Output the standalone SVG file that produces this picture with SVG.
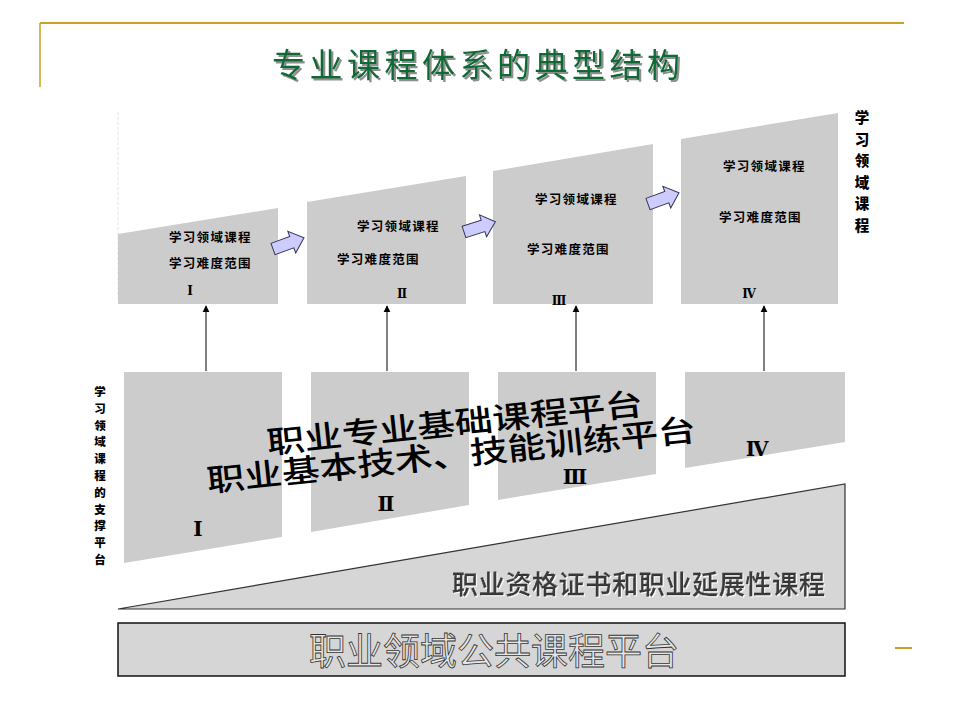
<svg xmlns="http://www.w3.org/2000/svg" width="960" height="720" viewBox="0 0 960 720">
<style>
.gold{stroke:#c9a227;fill:none}
.blk{fill:#cccccc;stroke:none}
.lbl{font-family:"Noto Sans CJK SC","Noto Sans CJK TC",sans-serif;font-weight:700;font-size:12.5px;letter-spacing:1.3px;fill:#000}
.rn{font-family:"DejaVu Serif","Noto Sans CJK SC",serif;font-weight:700;fill:#000;text-anchor:middle}
.vt{font-family:"Noto Sans CJK SC",sans-serif;font-weight:900;fill:#000;text-anchor:middle}
.vr{font-size:14.5px}
.vl{font-size:11.5px}
.big{font-family:"Noto Sans CJK SC",sans-serif;font-weight:500;font-size:31px;fill:#000}
.arw{fill:#ccccff;stroke:#333355;stroke-width:1}
.con{stroke:#000;stroke-width:1;fill:none}
</style>
<defs>
<marker id="ah" viewBox="0 0 10 10" refX="9" refY="5" markerWidth="7" markerHeight="8" markerUnits="userSpaceOnUse" orient="auto">
<path d="M0,0 L10,5 L0,10 z" fill="#000"/>
</marker>
<polygon id="barrow" points="0,-6 20,-6 20,-11.5 33,0 20,11.5 20,6 0,6"/>
<filter id="tsh" x="-5%" y="-20%" width="110%" height="140%">
<feDropShadow dx="2" dy="2" stdDeviation="0.4" flood-color="#8f8f8f"/>
</filter>
<filter id="emb" x="-5%" y="-20%" width="110%" height="140%">
<feDropShadow dx="1" dy="1" stdDeviation="0" flood-color="#ffffff"/>
</filter>
</defs>
<rect width="960" height="720" fill="#fff"/>

<g id="frame">
<line class="gold" x1="40" y1="23" x2="904" y2="23" stroke-width="2"/>
<line class="gold" x1="40" y1="23" x2="40" y2="87" stroke-width="1.5"/>
<line class="gold" x1="895" y1="648" x2="912" y2="648" stroke-width="2"/>
<line x1="118" y1="112" x2="118" y2="302" stroke="#e4e4e4" stroke-width="1" stroke-dasharray="3,2"/>
</g>

<g id="title">
<text x="272" y="77" font-family="'Noto Sans CJK SC',sans-serif" font-size="33" font-weight="400" fill="#0b6b36" textLength="408" lengthAdjust="spacing" filter="url(#tsh)">专业课程体系的典型结构</text>
</g>

<g id="top1">
<polygon class="blk" points="118,234 278,208 278,304 118,304"/>
<text class="lbl" x="169" y="242">学习领域课程</text>
<text class="lbl" x="169" y="268">学习难度范围</text>
<text class="rn" x="190" y="295" font-size="12">Ⅰ</text>
</g>
<g id="top2">
<polygon class="blk" points="307,202 466,176 466,304 307,304"/>
<text class="lbl" x="357" y="231">学习领域课程</text>
<text class="lbl" x="337" y="264">学习难度范围</text>
<text class="rn" x="402" y="298" font-size="12">Ⅱ</text>
</g>
<g id="top3">
<polygon class="blk" points="493,171 653,144 653,304 493,304"/>
<text class="lbl" x="535" y="204">学习领域课程</text>
<text class="lbl" x="527" y="254">学习难度范围</text>
<text class="rn" x="559" y="305" font-size="12">Ⅲ</text>
</g>
<g id="top4">
<polygon class="blk" points="681,139 838,113 838,304 681,304"/>
<text class="lbl" x="723" y="171">学习领域课程</text>
<text class="lbl" x="719" y="222">学习难度范围</text>
<text class="rn" x="749" y="298" font-size="12">Ⅳ</text>
</g>

<g id="rightLabel">
<text class="vt vr" x="862" y="123">学</text>
<text class="vt vr" x="862" y="144.5">习</text>
<text class="vt vr" x="862" y="166">领</text>
<text class="vt vr" x="862" y="187.5">域</text>
<text class="vt vr" x="862" y="209">课</text>
<text class="vt vr" x="862" y="230.5">程</text>
</g>

<g id="base1">
<polygon class="blk" points="124,372 282,372 282,537 124,563"/>
<text class="rn" x="198" y="536" font-size="20">Ⅰ</text>
</g>
<g id="base2">
<polygon class="blk" points="311,372 469,372 469,505 311,532"/>
<text class="rn" x="386" y="511" font-size="20">Ⅱ</text>
</g>
<g id="base3">
<polygon class="blk" points="498,372 656,372 656,474 498,500"/>
<text class="rn" x="575" y="484" font-size="20">Ⅲ</text>
</g>
<g id="base4">
<polygon class="blk" points="685,372 845,372 845,442 685,468"/>
<text class="rn" x="757" y="456" font-size="20">Ⅳ</text>
</g>

<g id="platformText">
<text class="big" transform="translate(268,454) rotate(-6) scale(1.22,1)">职业专业基础课程平台</text>
<text class="big" transform="translate(208,492) rotate(-6) scale(1.22,1)">职业基本技术、技能训练平台</text>
</g>

<g id="leftLabel">
<text class="vt vl" x="100" y="396">学</text>
<text class="vt vl" x="100" y="412.8">习</text>
<text class="vt vl" x="100" y="429.6">领</text>
<text class="vt vl" x="100" y="446.4">域</text>
<text class="vt vl" x="100" y="463.2">课</text>
<text class="vt vl" x="100" y="480">程</text>
<text class="vt vl" x="100" y="496.8">的</text>
<text class="vt vl" x="100" y="513.6">支</text>
<text class="vt vl" x="100" y="530.4">撑</text>
<text class="vt vl" x="100" y="547.2">平</text>
<text class="vt vl" x="100" y="564">台</text>
</g>

<g id="wedge">
<polygon points="118,609 845,484 845,609" fill="#d6d6d6" stroke="#333" stroke-width="1.2"/>
<text x="452" y="594" font-family="'Noto Sans CJK SC',sans-serif" font-size="26" font-weight="500" fill="#3a3a3a" stroke="#1a1a1a" stroke-width="0.3" textLength="373" lengthAdjust="spacing" filter="url(#emb)">职业资格证书和职业延展性课程</text>
</g>

<g id="commonPlatform">
<rect x="118" y="623" width="727" height="53" fill="#d6d6d6" stroke="#111" stroke-width="1.5"/>
<text x="494" y="665" text-anchor="middle" font-family="'Noto Sans CJK SC',sans-serif" font-size="37" font-weight="400" fill="#e6e6e6" stroke="#333" stroke-width="0.8">职业领域公共课程平台</text>
</g>

<g id="connectors">
<line class="con" x1="206" y1="371" x2="206" y2="306" marker-end="url(#ah)"/>
<line class="con" x1="387" y1="371" x2="387" y2="306" marker-end="url(#ah)"/>
<line class="con" x1="576" y1="371" x2="576" y2="306" marker-end="url(#ah)"/>
<line class="con" x1="764" y1="371" x2="764" y2="306" marker-end="url(#ah)"/>
<use href="#barrow" class="arw" transform="translate(273,249) rotate(-20)"/>
<use href="#barrow" class="arw" transform="translate(464,232) rotate(-18)"/>
<use href="#barrow" class="arw" transform="translate(648,204) rotate(-20)"/>
</g>
</svg>
